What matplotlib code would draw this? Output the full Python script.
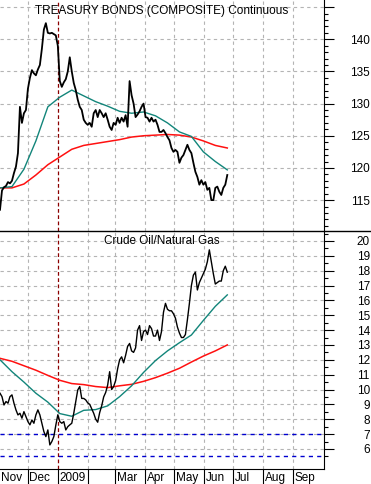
import numpy as np
import pandas as pd
import matplotlib
matplotlib.use("Agg")
import matplotlib.pyplot as plt
from matplotlib.lines import Line2D
from matplotlib.transforms import blended_transform_factory

plt.rcParams['font.family'] = ['Liberation Sans', 'DejaVu Sans']

# --- data ---
series_start = "2008-11-02"
series_end = "2009-06-25"

bonds = [113.5, 116.5, 117, 117.2, 117.8, 117.6, 118, 119.2, 120.2, 122.3,
         129.5, 127, 128.5, 129, 132.3, 134, 135.2, 134.7, 134.4, 135.3,
         136, 138.5, 141.5, 142.5, 141, 140.9, 141, 140.8, 140.6, 139,
         133.5, 132.6, 133.3, 133.8, 135, 137.2, 135, 133.2, 132.1, 130.6,
         129.5, 129, 127.5, 127, 126.7, 127, 126.4, 128.5, 129, 127.9,
         129, 128.5, 127.9, 128.5, 127.5, 126.4, 125.9, 127, 126.7, 127.8,
         127, 127.8, 127.2, 128.2, 126.4, 133.5, 131.3, 130, 127.9, 128.3,
         128.8, 129.5, 130, 127.9, 127.8, 127.2, 127.8, 127.2, 127.5, 126.7,
         125.6, 125.6, 125.9, 125.4, 124.8, 124.3, 123.1, 122.5, 122.8, 122.5,
         120.8, 121.6, 122, 122.8, 123.6, 122.8, 122.3, 120.8, 119.4, 118.6,
         117.4, 118.1, 117.4, 117.8, 116.6, 116.9, 115, 115, 116.9, 117.1,
         116.3, 115.8, 116.9, 117.4, 118.9]
bonds_ma50 = [116.9, 117.1, 119.8, 124.2, 129.5, 131.0, 132.1, 131.2, 130.3, 129.6,
              128.8, 128.5, 128.7, 128.1, 127.0, 125.6, 124.9, 122.5, 121.0, 119.7]
bonds_ma200 = [116.9, 116.9, 117.5, 118.9, 120.5, 121.7, 122.9, 123.5, 123.8, 124.1,
               124.4, 124.8, 125.0, 125.1, 125.2, 125.1, 124.8, 124.2, 123.5, 123.1]
bond_ticks = [115, 120, 125, 130, 135, 140, 145]
bond_tick_labels = ["115", "120", "125", "130", "135", "140", ""]

ratio = [9.75, 9.52, 8.96, 9.19, 9.08, 9.52, 9.64, 9.08, 8.63, 8.29,
         8.40, 8.07, 8.51, 8.18, 7.84, 7.62, 7.95, 7.73, 8.29, 8.63,
         8.29, 7.73, 7.17, 6.83, 7.28, 6.27, 6.50, 6.83, 7.6, 8.3,
         7.84, 7.73, 7.84, 7.28, 7.50, 7.62, 7.73, 8.40, 9.19, 9.97,
         10.2, 9.4, 9.4, 9.3, 9.1, 9.0, 8.7, 8.4, 8.0, 7.8,
         8.45, 8.9, 9.5, 9.8, 10.3, 11.2, 10.0, 10.2, 10.6, 11.4,
         12.0, 12.2, 11.8, 12.3, 12.9, 13.1, 12.6, 12.5, 12.8, 14.0,
         14.3, 13.3, 13.9, 14.0, 13.7, 14.3, 14.1, 13.6, 13.6, 14.0,
         13.3, 13.9, 15.2, 15.8, 15.4, 15.3, 15.3, 15.1, 14.8, 14.2,
         13.8, 13.5, 13.5, 13.7, 14.7, 15.8, 17.0, 17.7, 17.9, 16.7,
         17.2, 17.5, 17.8, 18.1, 18.6, 19.4, 18.6, 17.8, 17.1, 17.2,
         17.3, 17.3, 18.0, 18.3, 17.9]
ratio_ma50 = [12.0, 11.2, 10.5, 9.75, 9.15, 8.38, 8.2, 8.6, 8.65, 8.9,
              9.52, 10.25, 11.15, 11.95, 12.6, 13.15, 13.67, 14.65, 15.6, 16.37]
ratio_ma200 = [12.1, 11.9, 11.6, 11.3, 10.95, 10.62, 10.4, 10.33, 10.2, 10.13,
               10.25, 10.35, 10.55, 10.8, 11.1, 11.43, 11.85, 12.25, 12.6, 13.0]
ratio_ticks = list(range(6, 21))

ratio_levels = [7, 5.5]
marker_date = "2009-01-01"
month_starts = ["2008-12-01", "2009-01-01", "2009-02-01", "2009-03-01", "2009-04-01",
                "2009-05-01", "2009-06-01", "2009-07-01", "2009-08-01", "2009-09-01"]
month_labels = ["Dec", "2009", "", "Mar", "Apr", "May", "Jun", "Jul", "Aug", "Sep"]
x_range = ("2008-11-02", "2009-10-03")

top_title = "TREASURY BONDS (COMPOSITE) Continuous"
bottom_title = "Crude Oil/Natural Gas"

# --- figure ---
W, H = 371, 484
fig = plt.figure(figsize=(W / 100, H / 100), dpi=100)
ax1 = fig.add_axes([0, 1 - 231 / H, 324 / W, 231 / H])
ax2 = fig.add_axes([0, 1 - 469 / H, 324 / W, 238 / H])

grid_kw = dict(color="#b4b4b4", lw=0.8, ls=(0, (3, 3)))
xlim = [pd.Timestamp(d) for d in x_range]
months = [pd.Timestamp(d) for d in month_starts]


def dates_for(values):
    return pd.date_range(series_start, series_end, periods=len(values))


def style_axis(ax, ylim, major, labels, minor):
    ax.set_xlim(xlim)
    ax.set_ylim(ylim)
    for s in ("left", "top"):
        ax.spines[s].set_visible(False)
    ax.yaxis.tick_right()
    ax.set_yticks(major)
    ax.set_yticklabels(labels)
    ax.set_yticks(minor, minor=True)
    ax.tick_params(axis="y", which="major", length=7, width=0.8, pad=26,
                   labelsize=8.5)
    ax.tick_params(axis="y", which="minor", length=3, width=0.8)
    for lab in ax.get_yticklabels():
        lab.set_ha("right")
    for v in major:
        ax.axhline(v, zorder=0, **grid_kw)
    for m in months:
        if m != pd.Timestamp(marker_date):
            ax.axvline(m, zorder=0, **grid_kw)
    ax.axvline(pd.Timestamp(marker_date), color="#8b0000", lw=0.9,
               ls=(0, (3, 2)), zorder=1)


# top panel
style_axis(ax1, (110.2, 146.1), bond_ticks, bond_tick_labels, np.arange(111, 146, 1))
ax1.spines["bottom"].set_visible(False)
ax1.set_xticks([])
ax1.plot(dates_for(bonds_ma200), bonds_ma200, color="#ff1010", lw=1.1, zorder=2)
ax1.plot(dates_for(bonds_ma50), bonds_ma50, color="#12857a", lw=1.0, zorder=2)
ax1.plot(dates_for(bonds), bonds, color="black", lw=1.3, zorder=3)
ax1.text(0.5, 0.98, top_title, transform=ax1.transAxes, ha="center", va="top",
         fontsize=8.5)

# bottom panel
style_axis(ax2, (4.65, 20.67), ratio_ticks, [str(v) for v in ratio_ticks],
           np.arange(5.5, 20.6, 1))
ax2.plot(dates_for(ratio_ma200), ratio_ma200, color="#ff1010", lw=1.1, zorder=2)
ax2.plot(dates_for(ratio_ma50), ratio_ma50, color="#12857a", lw=1.0, zorder=2)
ax2.plot(dates_for(ratio), ratio, color="black", lw=1.0, zorder=3)
for lvl in ratio_levels:
    ax2.axhline(lvl, color="#0000d0", lw=1.0, ls=(0, (3, 3)), zorder=2)
ax2.text(0.5, 0.985, bottom_title, transform=ax2.transAxes, ha="center", va="top",
         fontsize=8.5)

ax2.set_xticks(months)
ax2.set_xticklabels([])
ax2.tick_params(axis="x", length=16, width=0.8, direction="out")
trans = blended_transform_factory(ax2.transData, ax2.transAxes)
labels_at = [pd.Timestamp("2008-11-02")] + months
for m, lab in zip(labels_at, ["Nov"] + month_labels):
    if lab:
        ax2.text(m + pd.Timedelta(days=1.5), -0.038, lab, transform=trans,
                 ha="left", va="center", fontsize=8.5)

# separator between panels runs to the right edge
fig.add_artist(Line2D([0, 1], [1 - 231 / H, 1 - 231 / H], color="black", lw=1.0))

fig.savefig("out.png", dpi=100)
